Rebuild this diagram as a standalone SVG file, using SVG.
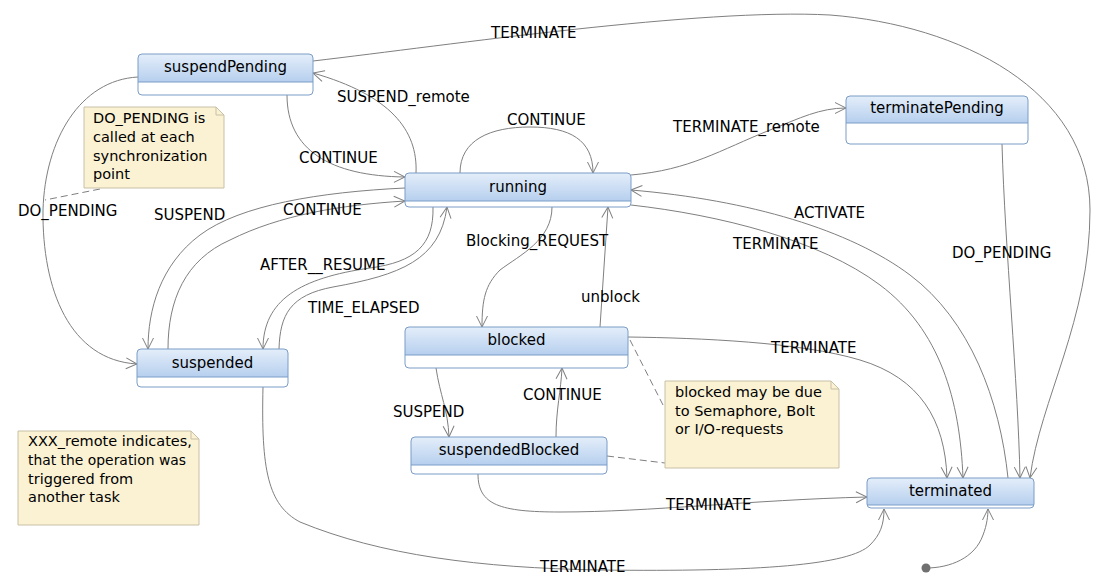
<svg xmlns="http://www.w3.org/2000/svg" width="1100" height="587" viewBox="0 0 1100 587">
<defs>
<linearGradient id="hdr" x1="0" y1="0" x2="0" y2="1">
<stop offset="0" stop-color="#e4eefa"/>
<stop offset="1" stop-color="#b6cfee"/>
</linearGradient>
<marker id="arr" markerWidth="13" markerHeight="13" refX="12" refY="6.5" orient="auto" markerUnits="userSpaceOnUse">
<path d="M1,1 L12,6.5 L1,12" fill="none" stroke="#7f7f7f" stroke-width="1"/>
</marker>
</defs>
<style>
text{font-family:"DejaVu Sans","Liberation Sans",sans-serif;font-size:15px;fill:#000}
.title{text-anchor:middle}
.nt{font-size:14.5px}
.box{fill:none;stroke:#7b9dc7;stroke-width:1}
.hd{fill:url(#hdr)}
.body{fill:#fff}
.div{stroke:#7b9dc7;stroke-width:1}
.conn path{fill:none;stroke:#7f7f7f;stroke-width:1}
.conn path.a{marker-end:url(#arr)}
.dash{fill:none;stroke:#7f7f7f;stroke-width:1;stroke-dasharray:7,4}
.note{fill:#fbf2d4;stroke:#c8c0a6;stroke-width:1}
</style>
<rect width="1100" height="587" fill="#fff"/>

<g id="connectors" class="conn">
<path class="a" d="M313,61 C450,45 700,8 830,15 C960,25 1090,90 1090,210 C1090,320 1040,400 1030,478"/>
<path class="a" d="M416,173 C418,130 390,95 313,73"/>
<path class="a" d="M287,95 C287,150 330,176 405,177"/>
<path class="a" d="M460,173 C460,140 490,127 530,127 C570,127 593,140 593,173"/>
<path class="a" d="M631,175 C690,170 720,150 770,130 C800,118 820,108 846,108"/>
<path class="a" d="M1008,478 C1000,400 970,320 910,275 C850,230 750,200 631,190"/>
<path class="a" d="M631,205 C720,215 820,240 880,285 C940,330 960,400 963,478"/>
<path class="a" d="M628,337 C700,338 800,342 860,360 C920,378 945,420 947,478"/>
<path class="a" d="M1002,144 C1005,250 1018,380 1020,478"/>
<path class="a" d="M138,77 C80,80 45,140 43,210 C42,290 70,360 137,364"/>
<path class="a" d="M405,188 C320,192 240,205 200,235 C160,265 148,310 148,349"/>
<path class="a" d="M168,349 C168,300 185,260 230,240 C280,215 340,205 405,201"/>
<path class="a" d="M433,207 C434,245 415,262 370,268 C300,278 263,300 263,349"/>
<path class="a" d="M279,349 C280,315 290,295 333,287 C400,275 440,260 447,207"/>
<path class="a" d="M552,207 C552,240 520,255 500,270 C485,285 482,300 482,327"/>
<path class="a" d="M600,327 L608,207"/>
<path class="a" d="M436,368 C440,395 448,410 449,437"/>
<path class="a" d="M556,437 C556,410 561,390 562,368"/>
<path class="a" d="M478,474 C478,505 500,512 560,512 C650,512 750,500 867,497"/>
<path class="a" d="M263,387 C261,470 268,505 300,522 C380,555 480,568 600,570 C760,572 850,565 870,545 C880,535 884,525 884,509"/>
<path class="a" d="M926,568 C950,568 975,558 983,535 C987,525 988,515 988,509"/>
<path class="dash" d="M100,189 L45,200"/>
<path class="dash" d="M630,340 L663,405"/>
<path class="dash" d="M607,456 L665,463"/>
</g>

<g id="labels">
<text x="491" y="38">TERMINATE</text>
<text x="337" y="102">SUSPEND_remote</text>
<text x="299" y="163">CONTINUE</text>
<text x="507" y="125">CONTINUE</text>
<text x="673" y="132">TERMINATE_remote</text>
<text x="18" y="216">DO_PENDING</text>
<text x="154" y="220">SUSPEND</text>
<text x="283" y="215">CONTINUE</text>
<text x="794" y="218">ACTIVATE</text>
<text x="733" y="249">TERMINATE</text>
<text x="952" y="258">DO_PENDING</text>
<text x="466" y="246">Blocking_REQUEST</text>
<text x="260" y="270">AFTER__RESUME</text>
<text x="581" y="302">unblock</text>
<text x="308" y="313">TIME_ELAPSED</text>
<text x="771" y="353">TERMINATE</text>
<text x="393" y="417">SUSPEND</text>
<text x="523" y="400">CONTINUE</text>
<text x="666" y="510">TERMINATE</text>
<text x="540" y="572">TERMINATE</text>
</g>

<g id="suspendPending">
<rect class="body" x="138" y="54" width="175" height="41" rx="4"/>
<path class="hd" d="M138,82 V58 Q138,54 142,54 H309 Q313,54 313,58 V82 Z"/>
<line class="div" x1="138" y1="82" x2="313" y2="82"/>
<rect class="box" x="138" y="54" width="175" height="41" rx="4"/>
<text class="title" x="225.5" y="72">suspendPending</text>
</g>

<g id="running">
<rect class="body" x="405" y="173" width="226" height="34" rx="4"/>
<path class="hd" d="M405,201 V177 Q405,173 409,173 H627 Q631,173 631,177 V201 Z"/>
<line class="div" x1="405" y1="201" x2="631" y2="201"/>
<rect class="box" x="405" y="173" width="226" height="34" rx="4"/>
<text class="title" x="518" y="192">running</text>
</g>

<g id="terminatePending">
<rect class="body" x="846" y="96" width="182" height="48" rx="4"/>
<path class="hd" d="M846,123 V100 Q846,96 850,96 H1024 Q1028,96 1028,100 V123 Z"/>
<line class="div" x1="846" y1="123" x2="1028" y2="123"/>
<rect class="box" x="846" y="96" width="182" height="48" rx="4"/>
<text class="title" x="937" y="113">terminatePending</text>
</g>

<g id="blocked">
<rect class="body" x="405" y="327" width="223" height="41" rx="4"/>
<path class="hd" d="M405,355 V331 Q405,327 409,327 H624 Q628,327 628,331 V355 Z"/>
<line class="div" x1="405" y1="355" x2="628" y2="355"/>
<rect class="box" x="405" y="327" width="223" height="41" rx="4"/>
<text class="title" x="516.5" y="345">blocked</text>
</g>

<g id="suspendedBlocked">
<rect class="body" x="411" y="437" width="196" height="37" rx="4"/>
<path class="hd" d="M411,465 V441 Q411,437 415,437 H603 Q607,437 607,441 V465 Z"/>
<line class="div" x1="411" y1="465" x2="607" y2="465"/>
<rect class="box" x="411" y="437" width="196" height="37" rx="4"/>
<text class="title" x="509" y="455">suspendedBlocked</text>
</g>

<g id="suspended">
<rect class="body" x="137" y="349" width="151" height="38" rx="4"/>
<path class="hd" d="M137,377 V353 Q137,349 141,349 H284 Q288,349 288,353 V377 Z"/>
<line class="div" x1="137" y1="377" x2="288" y2="377"/>
<rect class="box" x="137" y="349" width="151" height="38" rx="4"/>
<text class="title" x="212.5" y="368">suspended</text>
</g>

<g id="terminated">
<rect class="body" x="867" y="478" width="167" height="30" rx="4"/>
<path class="hd" d="M867,505 V482 Q867,478 871,478 H1030 Q1034,478 1034,482 V505 Z"/>
<line class="div" x1="867" y1="505" x2="1034" y2="505"/>
<rect class="box" x="867" y="478" width="167" height="30" rx="4"/>
<text class="title" x="950.5" y="496">terminated</text>
</g>

<g id="initial">
<circle cx="926" cy="568" r="4.5" fill="#707070"/>
</g>

<g id="note-dopending">
<path class="note" d="M84,107 H216 L224,115 V188 H84 Z"/>
<path d="M216,107 V115 H224" fill="none" stroke="#c8c0a6"/>
<text class="nt" x="93" y="123">DO_PENDING is</text>
<text class="nt" x="93" y="142">called at each</text>
<text class="nt" x="93" y="161">synchronization</text>
<text class="nt" x="93" y="179">point</text>
</g>

<g id="note-remote">
<path class="note" d="M18,431 H191 L199,439 V525 H18 Z"/>
<path d="M191,431 V439 H199" fill="none" stroke="#c8c0a6"/>
<text class="nt" x="28" y="446">XXX_remote indicates,</text>
<text class="nt" x="28" y="465" textLength="158" lengthAdjust="spacingAndGlyphs">that the operation was</text>
<text class="nt" x="28" y="484">triggered from</text>
<text class="nt" x="28" y="502">another task</text>
</g>

<g id="note-blocked">
<path class="note" d="M665,381 H831 L839,389 V468 H665 Z"/>
<path d="M831,381 V389 H839" fill="none" stroke="#c8c0a6"/>
<text class="nt" x="675" y="397">blocked may be due</text>
<text class="nt" x="675" y="416">to Semaphore, Bolt</text>
<text class="nt" x="675" y="434">or I/O-requests</text>
</g>
</svg>
